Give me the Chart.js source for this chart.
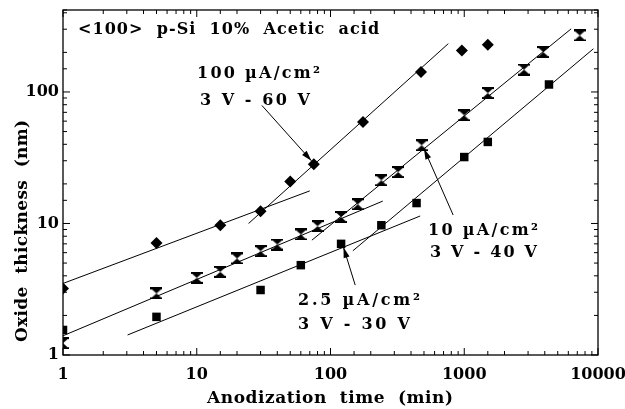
<!DOCTYPE html>
<html>
<head>
<meta charset="utf-8">
<script src="https://cdn.jsdelivr.net/npm/chart.js@4"></script>
<style>
  html, body { margin: 0; padding: 0; background: #fff; }
  #wrap { width: 625px; height: 409px; }
</style>
</head>
<body>
<div id="wrap"><canvas id="c" width="625" height="409"></canvas></div>
<script>
// measured points (time in min, thickness in nm)
const diamondX = [1, 5, 15, 30, 50, 75, 175, 475, 960, 1500];
const diamondY = [3.2, 7.1, 9.7, 12.4, 20.9, 28.2, 59, 142, 207, 229];

const hourglassX = [1, 5, 10, 15, 20, 30, 40, 60, 80, 120, 160, 240, 320, 480, 1000, 1500, 2800, 3900, 7300];
const hourglassY = [1.23, 2.94, 3.86, 4.29, 5.42, 6.16, 6.92, 8.25, 9.54, 11.2, 14.0, 21.3, 24.6, 39.3, 66.4, 98, 148, 201, 269];

const squareX = [1, 5, 30, 60, 120, 240, 440, 1000, 1500, 4300];
const squareY = [1.55, 1.95, 3.12, 4.82, 7.0, 9.7, 14.3, 32, 41.7, 114];

// fitted lines, two end points each
const fitLinesX = [[1, 70], [24.4, 760], [1, 246], [72.6, 6300], [3.04, 468], [147, 9240]];
const fitLinesY = [[3.5, 17.7], [10, 233], [1.4, 14.8], [7.47, 302], [1.42, 11.4], [6.2, 213]];

// arrows: tail -> tip
const arrowFromX = [30.7, 826, 153];
const arrowFromY = [79, 11.6, 3.4];
const arrowToX = [72, 500, 125];
const arrowToY = [30, 37, 6.6];

const xTickLabels = [1, 10, 100, 1000, 10000];
const yTickLabels = [1, 10, 100];

const FONT = '"DejaVu Serif", "Liberation Serif", serif';

function pts(xs, ys) {
    return xs.map((x, i) => ({ x: x, y: ys[i] }));
}

// hourglass marker
function makeHourglass() {
    const cv = document.createElement('canvas');
    cv.width = 12; cv.height = 12;
    const g = cv.getContext('2d');
    g.fillStyle = '#000';
    g.fillRect(0, 0, 12, 2);
    g.fillRect(0, 10, 12, 2);
    g.beginPath();
    g.moveTo(1.5, 2); g.lineTo(10.5, 2); g.lineTo(6, 6); g.closePath();
    g.moveTo(1.5, 10); g.lineTo(10.5, 10); g.lineTo(6, 6); g.closePath();
    g.fill();
    return cv;
}

const datasets = [];
fitLinesX.forEach((xs, i) => {
    datasets.push({
        type: 'line',
        data: pts(xs, fitLinesY[i]),
        borderColor: '#000',
        borderWidth: 1,
        pointRadius: 0,
        fill: false
    });
});
datasets.push({
    data: pts(diamondX, diamondY),
    pointStyle: 'rectRot',
    pointRadius: 6,
    backgroundColor: '#000',
    borderColor: '#000',
    borderWidth: 0,
    showLine: false
});
datasets.push({
    data: pts(hourglassX, hourglassY),
    pointStyle: makeHourglass(),
    backgroundColor: '#000',
    showLine: false
});
datasets.push({
    data: pts(squareX, squareY),
    pointStyle: 'rect',
    pointRadius: 6,
    backgroundColor: '#000',
    borderColor: '#000',
    borderWidth: 0,
    showLine: false
});

// draw text stretched to a given width with letter spacing
function spreadText(ctx, text, x, y, width) {
    ctx.letterSpacing = '0px';
    const w = ctx.measureText(text).width;
    const gap = (width - w) / (text.length - 1);
    ctx.letterSpacing = gap.toFixed(2) + 'px';
    ctx.fillText(text, x, y);
    ctx.letterSpacing = '0px';
}

// frame, inward ticks, arrows and annotation text
const decorPlugin = {
    id: 'decor',
    afterDraw(chart) {
        const ctx = chart.ctx;
        const a = chart.chartArea;
        const xs = chart.scales.x, ys = chart.scales.y;
        ctx.save();
        ctx.strokeStyle = '#000';
        ctx.lineWidth = 1.3;
        ctx.strokeRect(a.left, a.top, a.right - a.left, a.bottom - a.top);

        ctx.lineWidth = 1;
        ctx.beginPath();
        xs.ticks.forEach(t => {
            const p = xs.getPixelForValue(t.value);
            const len = t.major ? 7 : 4;
            ctx.moveTo(p, a.bottom); ctx.lineTo(p, a.bottom - len);
            ctx.moveTo(p, a.top); ctx.lineTo(p, a.top + len);
        });
        ys.ticks.forEach(t => {
            const p = ys.getPixelForValue(t.value);
            const len = t.major ? 7 : 4;
            ctx.moveTo(a.left, p); ctx.lineTo(a.left + len, p);
            ctx.moveTo(a.right, p); ctx.lineTo(a.right - len, p);
        });
        ctx.stroke();

        // arrows
        ctx.fillStyle = '#000';
        arrowFromX.forEach((fx, i) => {
            const x0 = xs.getPixelForValue(fx), y0 = ys.getPixelForValue(arrowFromY[i]);
            const x1 = xs.getPixelForValue(arrowToX[i]), y1 = ys.getPixelForValue(arrowToY[i]);
            const ang = Math.atan2(y1 - y0, x1 - x0);
            ctx.beginPath();
            ctx.moveTo(x0, y0); ctx.lineTo(x1, y1);
            ctx.stroke();
            ctx.beginPath();
            ctx.moveTo(x1, y1);
            ctx.lineTo(x1 - 11 * Math.cos(ang - 0.28), y1 - 11 * Math.sin(ang - 0.28));
            ctx.lineTo(x1 - 11 * Math.cos(ang + 0.28), y1 - 11 * Math.sin(ang + 0.28));
            ctx.closePath();
            ctx.fill();
        });

        // text
        ctx.textBaseline = 'alphabetic';
        ctx.textAlign = 'left';
        ctx.font = 'bold 16px ' + FONT;
        spreadText(ctx, '<100>  p-Si  10%  Acetic  acid', 78, 34, 301);
        spreadText(ctx, '100 \u00b5A/cm\u00b2', 197, 78, 123);
        spreadText(ctx, '3 V - 60 V', 200, 105, 110);
        spreadText(ctx, '10 \u00b5A/cm\u00b2', 428, 235, 110);
        spreadText(ctx, '3 V - 40 V', 430, 257, 107);
        spreadText(ctx, '2.5 \u00b5A/cm\u00b2', 298, 305, 122);
        spreadText(ctx, '3 V - 30 V', 298, 329, 112);

        // axis titles
        ctx.font = 'bold 17px ' + FONT;
        spreadText(ctx, 'Anodization  time  (min)', 207, 403, 246);
        ctx.translate(27, 342);
        ctx.rotate(-Math.PI / 2);
        spreadText(ctx, 'Oxide  thickness  (nm)', 0, 0, 222);
        ctx.restore();
    }
};

new Chart(document.getElementById('c'), {
    type: 'scatter',
    data: { datasets: datasets },
    options: {
        responsive: false,
        animation: false,
        layout: { padding: { top: 10, right: 27, left: 0, bottom: 0 } },
        plugins: { legend: { display: false }, tooltip: { enabled: false } },
        scales: {
            x: {
                type: 'logarithmic',
                min: 1,
                max: 10000,
                grid: { drawOnChartArea: false, drawTicks: false },
                border: { display: false },
                ticks: {
                    color: '#000',
                    padding: 10,
                    autoSkip: false,
                    maxRotation: 0,
                    font: { family: FONT, size: 16, weight: 'bold' },
                    callback: v => xTickLabels.includes(v) ? String(v) : ''
                },
                afterFit: s => { s.height = 54; s.paddingLeft = 0; s.paddingRight = 0; }
            },
            y: {
                type: 'logarithmic',
                min: 1,
                max: 420,
                grid: { drawOnChartArea: false, drawTicks: false },
                border: { display: false },
                ticks: {
                    color: '#000',
                    padding: 4,
                    autoSkip: false,
                    font: { family: FONT, size: 16, weight: 'bold' },
                    callback: v => yTickLabels.includes(v) ? String(v) : ''
                },
                afterFit: s => { s.width = 63; s.paddingTop = 0; s.paddingBottom = 0; }
            }
        }
    },
    plugins: [decorPlugin]
});
</script>
</body>
</html>
